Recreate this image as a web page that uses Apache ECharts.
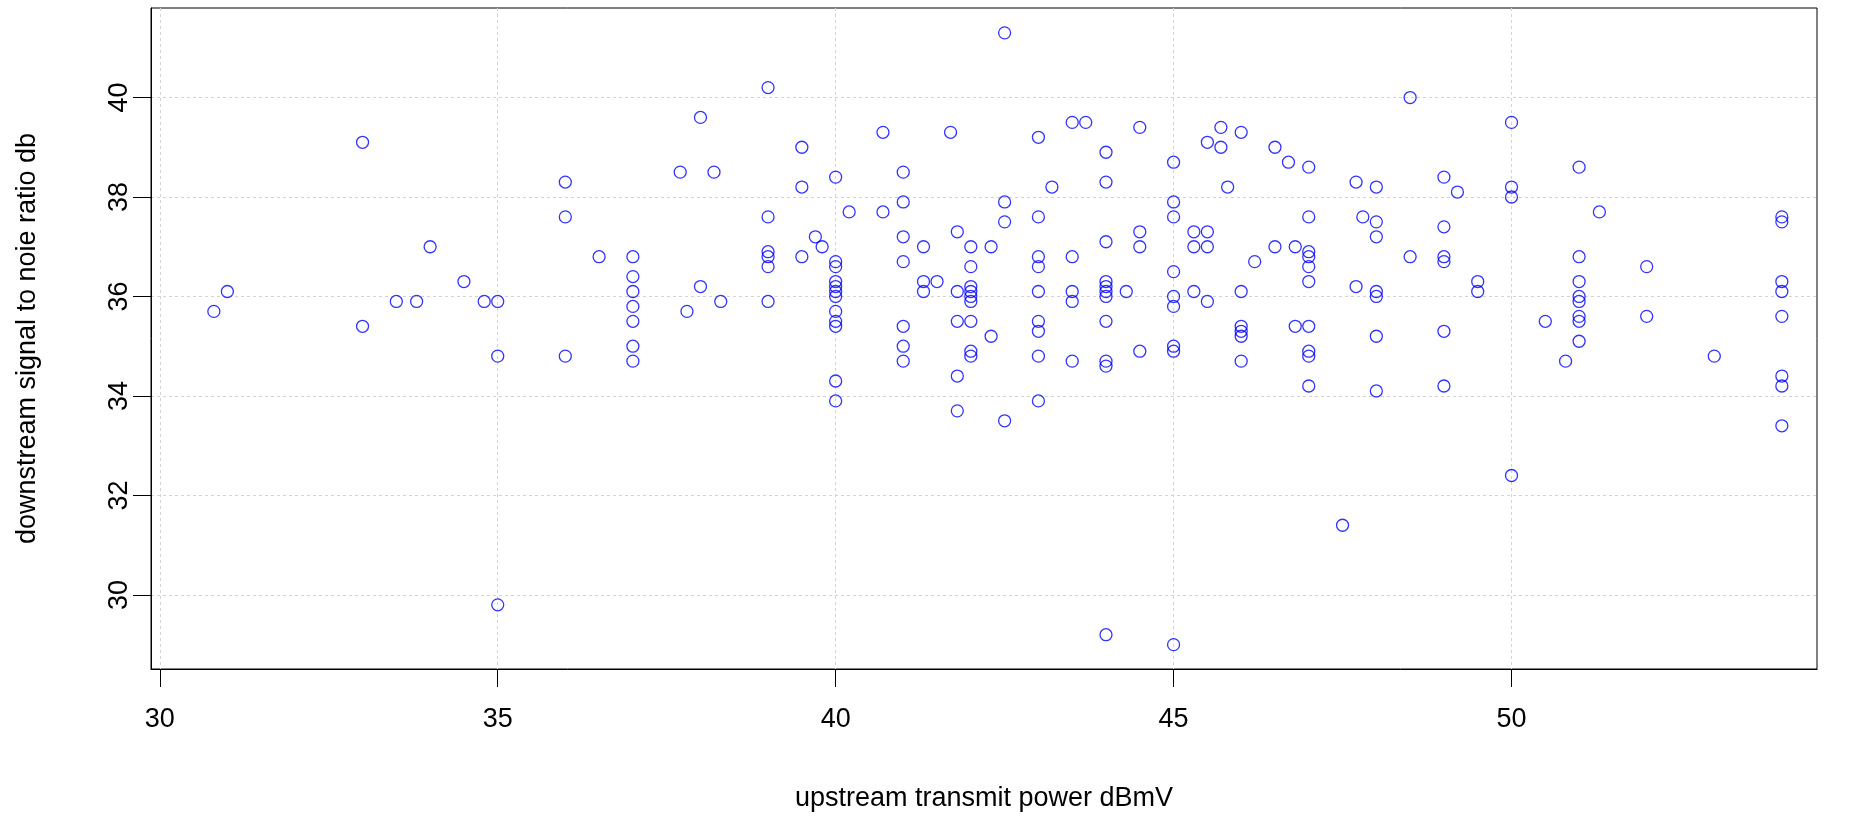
<!DOCTYPE html>
<html>
<head>
<meta charset="utf-8">
<script src="https://cdn.jsdelivr.net/npm/echarts@6/dist/echarts.min.js"></script>
<style>
  html, body { margin: 0; padding: 0; background: #fff; }
  #chart { width: 1850px; height: 817px; }
</style>
</head>
<body>
<div id="chart"></div>
<script>
// upstream transmit power (dBmV)
var power = [
  30.8, 31, 33, 33, 33.5, 33.8, 34, 34.5, 34.8, 35, 35, 35,
  36, 36, 36, 36.5, 37, 37, 37, 37, 37, 37, 37,
  37.7, 37.8, 38, 38, 38.2, 38.3,
  39, 39, 39, 39, 39, 39, 39.5, 39.5, 39.5, 39.7, 39.8,
  40, 40, 40, 40, 40, 40, 40, 40, 40, 40, 40, 40,
  40.2, 40.7, 40.7, 41, 41, 41, 41, 41, 41, 41,
  41.3, 41.3, 41.3, 41.5, 41.7, 41.8, 41.8, 41.8, 41.8, 41.8,
  42, 42, 42, 42, 42, 42, 42, 42, 42, 42.3, 42.3,
  42.5, 42.5, 42.5, 42.5,
  43, 43, 43, 43, 43, 43, 43, 43, 43, 43.2,
  43.5, 43.5, 43.5, 43.5, 43.5, 43.7,
  44, 44, 44, 44, 44, 44, 44, 44, 44, 44, 44, 44.3,
  44.5, 44.5, 44.5, 44.5,
  45, 45, 45, 45, 45, 45, 45, 45, 45,
  45.3, 45.3, 45.3, 45.5, 45.5, 45.5, 45.5, 45.7, 45.7, 45.8,
  46, 46, 46, 46, 46, 46, 46.2, 46.5, 46.5, 46.7, 46.8, 46.8,
  47, 47, 47, 47, 47, 47, 47, 47, 47, 47,
  47.5, 47.7, 47.7, 47.8,
  48, 48, 48, 48, 48, 48, 48, 48.5, 48.5,
  49, 49, 49, 49, 49, 49, 49.2, 49.5, 49.5,
  50, 50, 50, 50, 50.5, 50.8,
  51, 51, 51, 51, 51, 51, 51, 51, 51.3, 52, 52, 53,
  54, 54, 54, 54, 54, 54, 54, 54
];
// downstream signal to noise ratio (dB), same order
var snr = [
  35.7, 36.1, 39.1, 35.4, 35.9, 35.9, 37.0, 36.3, 35.9, 35.9, 34.8, 29.8,
  38.3, 37.6, 34.8, 36.8, 36.8, 36.4, 36.1, 35.8, 35.5, 35.0, 34.7,
  38.5, 35.7, 39.6, 36.2, 38.5, 35.9,
  40.2, 37.6, 36.9, 36.8, 36.6, 35.9, 39.0, 38.2, 36.8, 37.2, 37.0,
  38.4, 36.7, 36.6, 36.3, 36.2, 36.1, 36.0, 35.7, 35.5, 35.4, 34.3, 33.9,
  37.7, 39.3, 37.7, 38.5, 37.9, 37.2, 36.7, 35.4, 35.0, 34.7,
  37.0, 36.3, 36.1, 36.3, 39.3, 37.3, 36.1, 35.5, 34.4, 33.7,
  37.0, 36.6, 36.2, 36.1, 36.0, 35.9, 35.5, 34.9, 34.8, 37.0, 35.2,
  41.3, 37.9, 37.5, 33.5,
  39.2, 37.6, 36.8, 36.6, 36.1, 35.5, 35.3, 34.8, 33.9, 38.2,
  39.5, 36.8, 36.1, 35.9, 34.7, 39.5,
  38.9, 38.3, 37.1, 36.3, 36.2, 36.1, 36.0, 35.5, 34.7, 34.6, 29.2, 36.1,
  39.4, 37.3, 37.0, 34.9,
  38.7, 37.9, 37.6, 36.5, 36.0, 35.8, 35.0, 34.9, 29.0,
  37.3, 37.0, 36.1, 39.1, 37.3, 37.0, 35.9, 39.4, 39.0, 38.2,
  39.3, 36.1, 35.4, 35.3, 35.2, 34.7, 36.7, 39.0, 37.0, 38.7, 37.0, 35.4,
  38.6, 37.6, 36.9, 36.8, 36.6, 36.3, 35.4, 34.9, 34.8, 34.2,
  31.4, 38.3, 36.2, 37.6,
  38.2, 37.5, 37.2, 36.1, 36.0, 35.2, 34.1, 40.0, 36.8,
  38.4, 37.4, 36.8, 36.7, 35.3, 34.2, 38.1, 36.3, 36.1,
  39.5, 38.2, 38.0, 32.4, 35.5, 34.7,
  38.6, 36.8, 36.3, 36.0, 35.9, 35.6, 35.5, 35.1, 37.7, 36.6, 35.6, 34.8,
  37.6, 37.5, 36.3, 36.1, 35.6, 34.4, 34.2, 33.4
];
var xTicks = [30, 35, 40, 45, 50];
var yTicks = [30, 32, 34, 36, 38, 40];

var points = power.map(function (p, i) { return [p, snr[i]]; });

var myChart = echarts.init(document.getElementById('chart'));

var gridLine = {
  show: true,
  lineStyle: { color: '#d3d3d3', width: 1, type: [3, 3] }
};
var txt = { fontFamily: 'Liberation Sans', fontSize: 27, color: '#000' };

var option = {
  animation: false,
  grid: {
    left: 151, right: 33, top: 8, bottom: 148,
    outerBoundsMode: 'none',
    show: true, borderColor: '#000', borderWidth: 1, backgroundColor: '#fff'
  },
  xAxis: {
    type: 'value',
    min: 29.87,
    max: 54.52,
    name: 'upstream transmit power dBmV',
    nameLocation: 'middle',
    nameGap: 116,
    nameTextStyle: txt,
    axisLine: { show: true, onZero: false, lineStyle: { color: '#000', width: 1 } },
    axisTick: { show: true, inside: false, length: 18, customValues: xTicks, lineStyle: { color: '#000' } },
    axisLabel: Object.assign({ customValues: xTicks, margin: 37 }, txt),
    splitLine: gridLine
  },
  yAxis: {
    type: 'value',
    min: 28.51,
    max: 41.8,
    name: 'downstream signal to noie ratio db',
    nameLocation: 'middle',
    nameGap: 110,
    nameRotate: 90,
    nameTextStyle: txt,
    axisLine: { show: true, onZero: false, lineStyle: { color: '#000', width: 1 } },
    axisTick: { show: true, inside: false, length: 18, customValues: yTicks, lineStyle: { color: '#000' } },
    axisLabel: Object.assign({ customValues: yTicks, rotate: 90, margin: 18 }, txt),
    splitLine: gridLine
  },
  series: [
    {
      type: 'scatter',
      data: points,
      symbol: 'circle',
      symbolSize: 12,
      itemStyle: { color: 'rgba(0,0,0,0)', borderColor: '#0000ff', borderWidth: 1.3 },
      emphasis: { disabled: true }
    }
  ]
};

myChart.setOption(option);
</script>
</body>
</html>
